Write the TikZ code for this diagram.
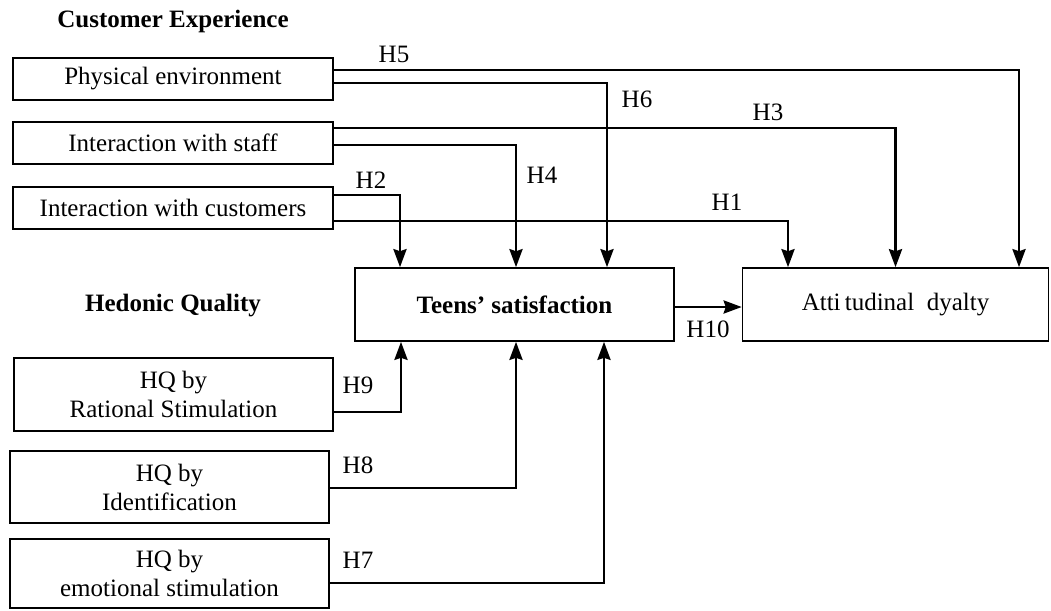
\documentclass[tikz,border=0pt]{standalone}
\usepackage{fontspec}
\setmainfont{Liberation Serif}
\usetikzlibrary{arrows.meta}
\tikzstyle{factor}=[draw,line width=1.6pt,inner sep=0pt,align=center,minimum width=320pt,minimum height=42pt]
\tikzstyle{tall}=[minimum height=73pt]
\tikzstyle{hyp}=[anchor=base,inner sep=0pt]
\tikzstyle{link}=[line width=2.8pt,-{Stealth[length=18pt,width=13pt,inset=2pt]}]

\begin{document}
\begin{tikzpicture}[x=1pt,y=-1pt]
\fontsize{25}{29}\selectfont
\useasboundingbox (0,0) rectangle (1051,610);
% headings
\node[hyp] (ce) at (173,28) {\textbf{Customer Experience}};
\node[hyp] (hq) at (173,311) {\textbf{Hedonic Quality}};
% customer experience
\node[factor] (pe) at (173,79) {Physical environment};
\node[factor] (is) at (173,143) {Interaction with staff};
\node[factor] (ic) at (173,208) {Interaction with customers};
% outcomes
\node[factor,tall,minimum width=319pt] (ts) at (514.5,304.5) {\textbf{Teens’ satisfaction}};
\node[factor,tall,minimum width=306pt] (al) at (895.5,304.5) {Atti\,tudinal~ dyalty};
% hedonic quality
\node[factor,tall,minimum width=319pt] (rs) at (173.5,394.5) {HQ by\\Rational Stimulation};
\node[factor,tall,minimum width=319pt,minimum height=72pt] (id) at (169.5,487) {HQ by\\Identification};
\node[factor,minimum width=319pt,minimum height=69pt] (es) at (169.5,573.5) {HQ by\\emotional stimulation};
% paths
\draw[link] ([yshift=9pt]pe.east) -| ([xshift=123.5pt]al.north);
\draw[link] ([yshift=-4pt]pe.east) -| ([xshift=92.5pt]ts.north);
\draw[link] ([yshift=15pt]is.east) -| (al.north);
\draw[link] ([yshift=-2pt]is.east) -| ([xshift=1.5pt]ts.north);
\draw[link] ([yshift=13pt]ic.east) -| ([xshift=-114.5pt]ts.north);
\draw[link] ([yshift=-13pt]ic.east) -| ([xshift=-107.5pt]al.north);
\draw[link] ([yshift=-2.5pt]ts.east) -- ([yshift=-2.5pt]al.west);
\draw[link] ([yshift=-17.5pt]rs.east) -| ([xshift=-113.5pt]ts.south);
\draw[link] ([yshift=-1pt]id.east) -| ([xshift=1.5pt]ts.south);
\draw[link] ([yshift=-9.5pt]es.east) -| ([xshift=89.5pt]ts.south);
% hypotheses
\node[hyp] (h5) at (394,63) {H5};
\node[hyp] (h6) at (637,107) {H6};
\node[hyp] (h3) at (768,120) {H3};
\node[hyp] (h4) at (542,183) {H4};
\node[hyp] (h2) at (371,188) {H2};
\node[hyp] (h1) at (727,210) {H1};
\node[hyp] (h10) at (708,337) {H10};
\node[hyp] (h9) at (358,393) {H9};
\node[hyp] (h8) at (358,473) {H8};
\node[hyp] (h7) at (358,568) {H7};
\end{tikzpicture}
\end{document}
